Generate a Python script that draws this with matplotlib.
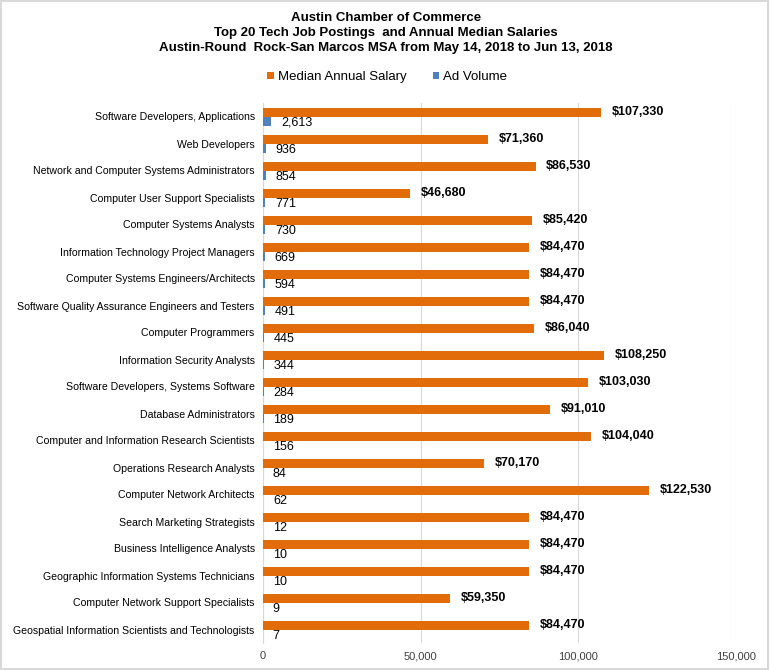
import matplotlib
matplotlib.use("Agg")
import matplotlib.pyplot as plt
import numpy as np
from matplotlib.patches import Rectangle

categories = [
    "Software Developers, Applications",
    "Web Developers",
    "Network and Computer Systems Administrators",
    "Computer User Support Specialists",
    "Computer Systems Analysts",
    "Information Technology Project Managers",
    "Computer Systems Engineers/Architects",
    "Software Quality Assurance Engineers and Testers",
    "Computer Programmers",
    "Information Security Analysts",
    "Software Developers, Systems Software",
    "Database Administrators",
    "Computer and Information Research Scientists",
    "Operations Research Analysts",
    "Computer Network Architects",
    "Search Marketing Strategists",
    "Business Intelligence Analysts",
    "Geographic Information Systems Technicians",
    "Computer Network Support Specialists",
    "Geospatial Information Scientists and Technologists",
]
salary = [107330, 71360, 86530, 46680, 85420, 84470, 84470, 84470, 86040, 108250,
          103030, 91010, 104040, 70170, 122530, 84470, 84470, 84470, 59350, 84470]
ad_volume = [2613, 936, 854, 771, 730, 669, 594, 491, 445, 344,
             284, 189, 156, 84, 62, 12, 10, 10, 9, 7]
x_ticks = [0, 50000, 100000, 150000]
x_tick_labels = ["0", "50,000", "100,000", "150,000"]

plt.rcParams['font.family'] = ['Liberation Sans', 'DejaVu Sans']

orange = "#E36C0A"
blue = "#4F81BD"

fig = plt.figure(figsize=(7.7, 6.7), dpi=100)
ax = fig.add_axes([263/770, 1 - 643/670, (736-263)/770, 540/670])

n = len(categories)
y = np.arange(n)
h = 1/3
ax.barh(y - h/2, salary, height=h, color=orange, label="Median Annual Salary", zorder=3)
ax.barh(y + h/2, ad_volume, height=h, color=blue, label="Ad Volume", zorder=3)

for i in range(n):
    ax.annotate(f"${salary[i]:,}", (salary[i], y[i] - h/2), xytext=(7.5, 0),
                textcoords="offset points", va="center", ha="left",
                fontsize=9, fontweight="bold")
    ax.annotate(f"{ad_volume[i]:,}", (ad_volume[i], y[i] + h/2 + 0.06), xytext=(7, 0),
                textcoords="offset points", va="center", ha="left",
                fontsize=9)

ax.set_xlim(0, 150000)
ax.set_ylim(n - 0.5, -0.5)
ax.set_yticks(y)
ax.set_yticklabels(categories, fontsize=7.6)
ax.set_xticks(x_ticks)
ax.set_xticklabels(x_tick_labels, fontsize=8, color="#404040")
ax.tick_params(axis='both', length=0, pad=6)
ax.tick_params(axis='y', pad=6)
ax.grid(axis='x', color="#D9D9D9", linewidth=0.8, zorder=0)
for s in ["top", "right", "bottom"]:
    ax.spines[s].set_visible(False)
ax.spines["left"].set_color("#D9D9D9")

tx = 386/770
fig.text(tx, 1 - 18/670, "Austin Chamber of Commerce", ha="center", va="center",
         fontsize=9.5, fontweight="bold")
fig.text(tx, 1 - 33/670, "Top 20 Tech Job Postings  and Annual Median Salaries", ha="center", va="center",
         fontsize=9.5, fontweight="bold")
fig.text(tx, 1 - 48/670, "Austin-Round  Rock-San Marcos MSA from May 14, 2018 to Jun 13, 2018", ha="center", va="center",
         fontsize=9.5, fontweight="bold")

leg = fig.legend(loc="center", bbox_to_anchor=(0.503, 1 - 77/670), ncol=2, frameon=False,
                 fontsize=9.5, handlelength=0.5, handleheight=0.5, handletextpad=0.3, columnspacing=2.0)

fig.patches.append(Rectangle((0.001, 0.001), 0.997, 0.997, transform=fig.transFigure,
                             fill=False, edgecolor="#D9D9D9", linewidth=1.5))

fig.savefig("out.png", dpi=100)
